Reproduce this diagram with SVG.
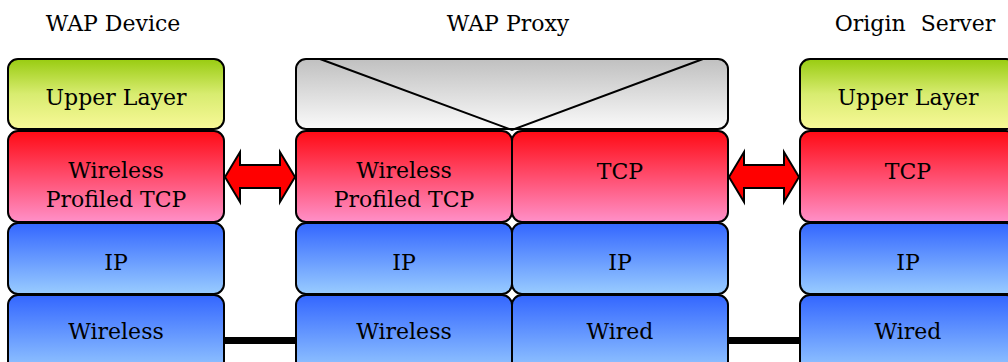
<svg xmlns="http://www.w3.org/2000/svg" width="1008" height="362" viewBox="0 0 1008 362">
<defs>
<linearGradient id="gUpper" x1="0" y1="0" x2="0" y2="1"><stop offset="0" stop-color="#99cc11"/><stop offset="0.5" stop-color="#d8ec70"/><stop offset="1" stop-color="#f8f898"/></linearGradient>
<linearGradient id="gRed" x1="0" y1="0" x2="0" y2="1"><stop offset="0" stop-color="#ff0a14"/><stop offset="1" stop-color="#ff90c8"/></linearGradient>
<linearGradient id="gBlue" x1="0" y1="0" x2="0" y2="1"><stop offset="0" stop-color="#3366ff"/><stop offset="1" stop-color="#99ccff"/></linearGradient>
<linearGradient id="gGray" x1="0" y1="0" x2="0" y2="1"><stop offset="0" stop-color="#c0c0c0"/><stop offset="1" stop-color="#fafafa"/></linearGradient>
</defs>
<style>
.box{stroke:#000;stroke-width:2}
.up{fill:url(#gUpper)}
.red{fill:url(#gRed)}
.blue{fill:url(#gBlue)}
.gray{fill:url(#gGray)}
text{font-family:'DejaVu Serif',serif;font-size:22px;fill:#000;text-anchor:middle}
.arrow{fill:#ff0000;stroke:#000;stroke-width:2;stroke-linejoin:miter}
.link{stroke:#000;stroke-width:7}
</style>
<g id="titles">
<text x="113" y="31">WAP Device</text>
<text x="508" y="31">WAP Proxy</text>
<text x="915" y="31" word-spacing="8">Origin Server</text>
</g>
<g id="connectors">
<line class="link" x1="224" y1="340.5" x2="296" y2="340.5"/>
<line class="link" x1="728" y1="340.5" x2="800" y2="340.5"/>
<path class="arrow" d="M225,177 L240,152 L240,165 L280,165 L280,152 L295,177 L280,202 L280,188 L240,188 L240,202 Z"/>
<path class="arrow" d="M729,177 L744,152 L744,165 L784,165 L784,152 L799,177 L784,202 L784,188 L744,188 L744,202 Z"/>
</g>
<g id="device-upper"><rect class="box up" x="8" y="59" width="216" height="70" rx="10"/><text x="116" y="105">Upper Layer</text></g>
<g id="device-tcp"><rect class="box red" x="8" y="131" width="216" height="91" rx="10"/><text x="116" y="178">Wireless</text><text x="116" y="207">Profiled TCP</text></g>
<g id="device-ip"><rect class="box blue" x="8" y="223" width="216" height="71" rx="10"/><text x="116" y="270">IP</text></g>
<g id="device-link"><rect class="box blue" x="8" y="295" width="216" height="80" rx="10"/><text x="116" y="339">Wireless</text></g>
<g id="proxy-upper"><rect class="box gray" x="296" y="59" width="432" height="70" rx="10"/><path d="M320,59 L512,130 L703,59" fill="none" stroke="#000" stroke-width="2"/></g>
<g id="proxy-wtcp"><rect class="box red" x="296" y="131" width="216" height="91" rx="10"/><text x="404" y="178">Wireless</text><text x="404" y="207">Profiled TCP</text></g>
<g id="proxy-tcp"><rect class="box red" x="512" y="131" width="216" height="91" rx="10"/><text x="620" y="179">TCP</text></g>
<g id="proxy-ip1"><rect class="box blue" x="296" y="223" width="216" height="71" rx="10"/><text x="404" y="270">IP</text></g>
<g id="proxy-ip2"><rect class="box blue" x="512" y="223" width="216" height="71" rx="10"/><text x="620" y="270">IP</text></g>
<g id="proxy-wireless"><rect class="box blue" x="296" y="295" width="216" height="80" rx="10"/><text x="404" y="339">Wireless</text></g>
<g id="proxy-wired"><rect class="box blue" x="512" y="295" width="216" height="80" rx="10"/><text x="620" y="339">Wired</text></g>
<g id="server-upper"><rect class="box up" x="800" y="59" width="216" height="70" rx="10"/><text x="908" y="105">Upper Layer</text></g>
<g id="server-tcp"><rect class="box red" x="800" y="131" width="216" height="91" rx="10"/><text x="908" y="179">TCP</text></g>
<g id="server-ip"><rect class="box blue" x="800" y="223" width="216" height="71" rx="10"/><text x="908" y="270">IP</text></g>
<g id="server-link"><rect class="box blue" x="800" y="295" width="216" height="80" rx="10"/><text x="908" y="339">Wired</text></g>
</svg>
